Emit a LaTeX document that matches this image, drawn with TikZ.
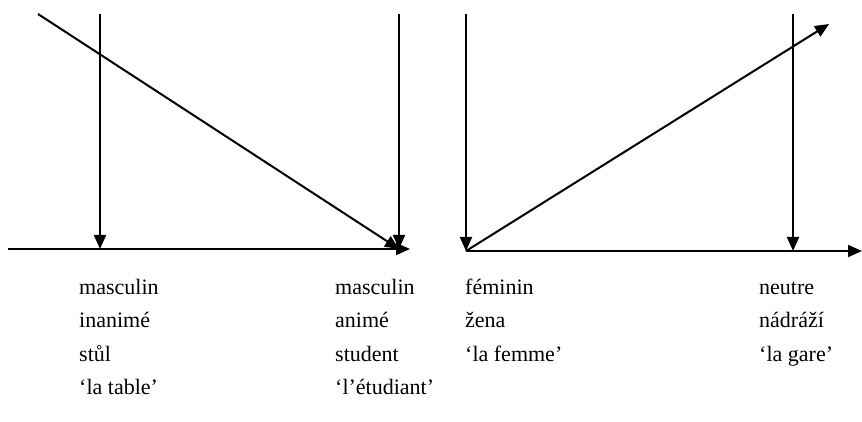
\documentclass[tikz,border=0pt]{standalone}
\usepackage{fontspec}
\setmainfont{Liberation Serif}
\usetikzlibrary{arrows.meta}
\begin{document}
\begin{tikzpicture}[x=1pt,y=-1pt,
  axis/.style={line width=2pt,-{Triangle[length=14pt,width=12pt]}},
  lbl/.style={anchor=base west,inner sep=0pt,font=\fontsize{22}{26}\selectfont}]
\useasboundingbox (0,0) rectangle (862,422);
% left panel
\coordinate (lh0) at (8,249);
\coordinate (lh1) at (410,249);
\coordinate (lv1t) at (100,14);
\coordinate (lv1b) at (100,249);
\coordinate (lv2t) at (399,14);
\coordinate (lv2b) at (399,249);
\coordinate (ld0) at (38,14);
% right panel
\coordinate (rh0) at (466,251);
\coordinate (rh1) at (862,251);
\coordinate (rv1t) at (466,14);
\coordinate (rv2t) at (793,14);
\coordinate (rv2b) at (793,251);
\coordinate (rd1) at (829,24);
\draw[axis] (lh0) -- (lh1);
\draw[axis] (lv1t) -- (lv1b);
\draw[axis] (lv2t) -- (lv2b);
\draw[axis] (ld0) -- (lv2b);
\draw[axis] (rh0) -- (rh1);
\draw[axis] (rv1t) -- (rh0);
\draw[axis] (rv2t) -- (rv2b);
\draw[axis] (rh0) -- (rd1);
% labels
\node[lbl] (a1) at (79,294) {masculin};
\node[lbl] (a2) at (79,327) {inanimé};
\node[lbl] (a3) at (79,361) {stůl};
\node[lbl] (a4) at (79,394) {‘la table’};
\node[lbl] (b1) at (335,294) {masculin};
\node[lbl] (b2) at (335,327) {animé};
\node[lbl] (b3) at (335,361) {student};
\node[lbl] (b4) at (335,394) {‘l’étudiant’};
\node[lbl] (c1) at (465,294) {féminin};
\node[lbl] (c2) at (465,327) {žena};
\node[lbl] (c3) at (465,361) {‘la femme’};
\node[lbl] (d1) at (759,294) {neutre};
\node[lbl] (d2) at (759,327) {nádráží};
\node[lbl] (d3) at (759,361) {‘la gare’};
\end{tikzpicture}
\end{document}
